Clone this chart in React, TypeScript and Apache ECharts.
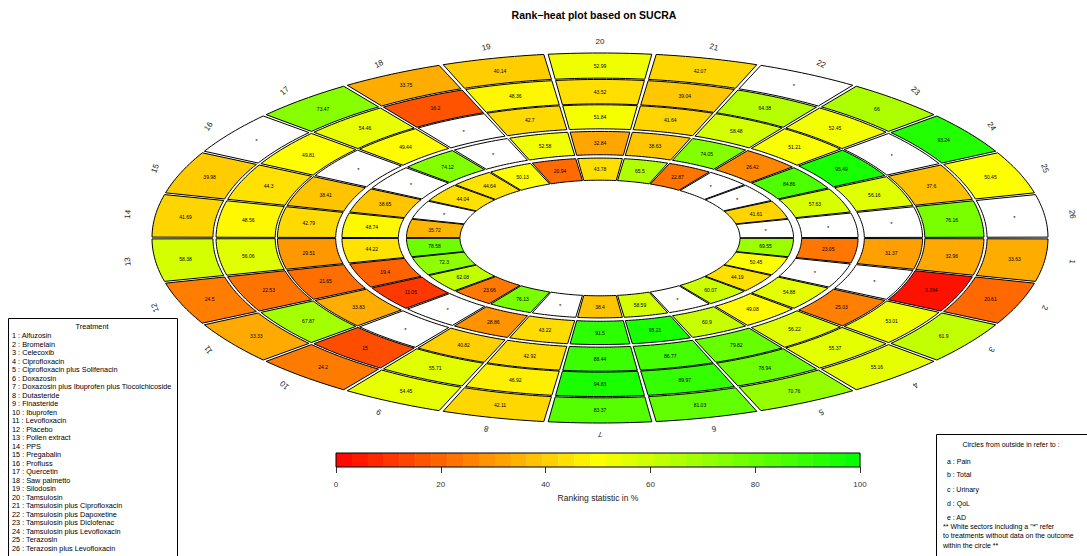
import React, { useEffect, useRef } from "react";
import * as echarts from "echarts";

const FONT = "Liberation Sans, Arial, sans-serif";

const treatments = [
  "Alfuzosin", "Bromelain", "Celecoxib", "Ciprofloxacin", "Ciprofloxacin plus Solifenacin",
  "Doxazosin", "Doxazosin plus Ibuprofen plus Tiocolchicoside", "Dutasteride", "Finasteride",
  "Ibuprofen", "Levofloxacin", "Placebo", "Pollen extract", "PPS", "Pregabalin", "Profluss",
  "Quercetin", "Saw palmetto", "Silodosin", "Tamsulosin", "Tamsulosin plus Ciprofloxacin",
  "Tamsulosin plus Dapoxetine", "Tamsulosin plus Diclofenac", "Tamsulosin plus Levofloxacin",
  "Terazosin", "Terazosin plus Levofloxacin",
];

const outcomeKeys = ["a", "b", "c", "d", "e"];
const outcomeNames = ["Pain", "Total", "Urinary", "QoL", "AD"];

// SUCRA values per ring (outside -> in), indexed by treatment 1..26; null = no data
const pain = [33.63, 20.61, 61.9, 55.16, 70.76, 81.03, 83.37, 42.11, 54.45, 24.2, 33.33, 24.5, 58.38, 41.69, 39.98, null, 73.47, 33.75, 40.14, 52.99, 42.07, null, 66, 93.24, 50.45, null];
const total = [32.96, 3.294, 53.01, 55.37, 78.94, 89.97, 94.83, 46.92, 55.71, 15, 67.87, 22.53, 56.06, 48.56, 44.3, 49.81, 54.46, 16.2, 48.36, 43.52, 39.04, 64.38, 52.45, null, 37.6, 76.16];
const urinary = [31.37, null, 25.03, 56.22, 79.82, 86.77, 88.44, 42.92, 40.82, null, 33.83, 21.65, 29.51, 42.79, 38.41, null, 49.44, null, 42.7, 51.84, 41.64, 58.48, 51.21, 95.49, 56.16, null];
const qol = [23.05, null, 54.88, 49.08, 60.9, 95.21, 91.5, 43.22, 28.86, null, 11.05, 19.4, 44.22, 48.74, 38.65, null, 74.12, null, 52.58, 32.84, 38.63, 74.05, 26.42, 84.86, 57.63, null];
const ad = [69.55, 50.45, 44.19, 60.07, null, 58.59, 38.4, null, 76.13, 23.66, 62.08, 72.3, 78.58, 35.72, null, 44.04, 44.64, 50.13, 20.94, 43.78, 65.5, 22.87, null, null, 41.61, null];

const colorbarTicks = [0, 20, 40, 60, 80, 100];
const colorbarSteps = 33;

const rings = [pain, total, urinary, qol, ad];
const ringRadii: number[][] = [
  [0.864, 1.0],
  [0.725, 0.857],
  [0.59, 0.72],
  [0.45, 0.576],
  [0.3125, 0.432],
];
const N_T = treatments.length;
const SECTOR = 360 / N_T;
const TOP_TREATMENT = 20;

function rampColor(v: number) {
  const t = Math.max(0, Math.min(100, v));
  let r: number, g: number;
  if (t <= 50) {
    r = 255;
    g = Math.round((255 * t) / 50);
  } else {
    r = Math.round((255 * (100 - t)) / 50);
    g = 255;
  }
  return `rgb(${r},${g},0)`;
}

function centerAngle(k: number) {
  return (((k - TOP_TREATMENT) * SECTOR) * Math.PI) / 180;
}

const cellData: number[][] = [];
rings.forEach((arr, ri) =>
  arr.forEach((v, i) => cellData.push([i + 1, ri, v == null ? -1 : v]))
);
const labelData = treatments.map((_, i) => [i + 1]);
const barData: number[][] = [];
for (let i = 0; i < colorbarSteps; i++) {
  barData.push([(i * 100) / colorbarSteps, ((i + 1) * 100) / colorbarSteps]);
}

function txt(text: string, x: number, y: number, size: number, align = "left", extra: any = {}) {
  return {
    type: "text",
    x,
    y,
    silent: true,
    style: {
      text,
      fontSize: size,
      fontFamily: FONT,
      fill: "#000",
      align,
      verticalAlign: "middle",
      textAlign: align,
      textVerticalAlign: "middle",
      ...extra,
    },
  };
}

function buildOption() {
  const graphics: any[] = [];
  graphics.push(txt("Rank\u2212heat plot based on SUCRA", 594, 15, 10.5, "center", { fontWeight: "bold" }));
  // Treatment legend
  graphics.push({
    type: "rect",
    shape: { x: 8.5, y: 318.5, width: 169, height: 260 },
    style: { fill: "#fff", stroke: "#000", lineWidth: 1 },
    z: 5,
  });
  graphics.push({ ...txt("Treatment", 92, 326.5, 7.3, "center"), z: 6 });
  treatments.forEach((t, i) => {
    graphics.push({ ...txt(`${i + 1} : ${t}`, 12, 335.5 + i * 8.5, 7.3, "left"), z: 6 });
  });
  // Outcome legend
  graphics.push({
    type: "rect",
    shape: { x: 936.5, y: 434.5, width: 170, height: 140 },
    style: { fill: "#fff", stroke: "#000", lineWidth: 1 },
    z: 5,
  });
  graphics.push({ ...txt("Circles from outside in refer to :", 1011, 444.5, 7, "center"), z: 6 });
  const ys = [461.5, 474, 489.5, 503, 517.5];
  outcomeKeys.forEach((k, i) => {
    graphics.push({ ...txt(`${k} : ${outcomeNames[i]}`, 947, ys[i], 7, "left"), z: 6 });
  });
  const notes = ['** White sectors including a "*" refer', "to treatments without data on the outcome", "within the circle **"];
  notes.forEach((n, i) => {
    graphics.push({ ...txt(n, 943, 526 + i * 9.5, 7, "left"), z: 6 });
  });
  // Colorbar border
  graphics.push({
    type: "rect",
    shape: { x: 336, y: 453, width: 524, height: 14 },
    style: { fill: "none", stroke: "#000", lineWidth: 1 },
    z: 10,
  });

  return {
    animation: false,
    backgroundColor: "#fff",
    grid: [
      { left: 152, top: 53, width: 896, height: 370 },
      { left: 336, top: 453, width: 524, height: 14 },
    ],
    xAxis: [
      { type: "value", gridIndex: 0, min: -1, max: 1, show: false },
      {
        type: "value",
        gridIndex: 1,
        min: 0,
        max: 100,
        interval: 20,
        position: "bottom",
        axisLine: { show: false },
        axisTick: { show: true, length: 6, lineStyle: { color: "#333", width: 1 } },
        axisLabel: { fontSize: 8, fontFamily: FONT, color: "#333", margin: 13 },
        splitLine: { show: false },
        name: "Ranking statistic in %",
        nameLocation: "middle",
        nameGap: 26,
        nameTextStyle: { fontSize: 8.5, fontFamily: FONT, color: "#222" },
      },
    ],
    yAxis: [
      { type: "value", gridIndex: 0, min: -1, max: 1, show: false },
      { type: "value", gridIndex: 1, min: 0, max: 1, show: false },
    ],
    graphic: graphics,
    series: [
      {
        type: "custom",
        xAxisIndex: 0,
        yAxisIndex: 0,
        data: cellData,
        clip: false,
        silent: true,
        renderItem: (params: any, api: any) => {
          const k = api.value(0);
          const ri = api.value(1);
          const v = api.value(2);
          const [r0, r1] = ringRadii[ri];
          const c = centerAngle(k);
          const half = ((SECTOR / 2 - 0.28) * Math.PI) / 180;
          const n = 14;
          const pts: number[][] = [];
          for (let i = 0; i <= n; i++) {
            const a = c - half + (2 * half * i) / n;
            pts.push(api.coord([r1 * Math.sin(a), r1 * Math.cos(a)]));
          }
          for (let i = n; i >= 0; i--) {
            const a = c - half + (2 * half * i) / n;
            pts.push(api.coord([r0 * Math.sin(a), r0 * Math.cos(a)]));
          }
          const mid = (r0 + r1) / 2;
          const tp = api.coord([mid * Math.sin(c), mid * Math.cos(c)]);
          const missing = v < 0;
          return {
            type: "group",
            children: [
              {
                type: "polygon",
                shape: { points: pts },
                style: { fill: missing ? "#fff" : rampColor(v), stroke: "#000", lineWidth: 1 },
              },
              {
                type: "text",
                x: tp[0],
                y: tp[1] + (missing ? 1 : 0),
                style: {
                  text: missing ? "*" : String(v),
                  fontSize: missing ? 6 : 5,
                  fontFamily: FONT,
                  fill: "#000",
                  align: "center",
                  verticalAlign: "middle",
                  textAlign: "center",
                  textVerticalAlign: "middle",
                },
              },
            ],
          };
        },
      },
      {
        type: "custom",
        xAxisIndex: 0,
        yAxisIndex: 0,
        data: labelData,
        clip: false,
        silent: true,
        renderItem: (params: any, api: any) => {
          const k = api.value(0);
          const c = centerAngle(k);
          const r = 1.062;
          const p = api.coord([r * Math.sin(c), r * Math.cos(c)]);
          return {
            type: "text",
            x: p[0],
            y: p[1],
            rotation: -c,
            style: {
              text: String(k),
              fontSize: 8,
              fontFamily: FONT,
              fill: "#222",
              align: "center",
              verticalAlign: "middle",
              textAlign: "center",
              textVerticalAlign: "middle",
            },
          };
        },
      },
      {
        type: "custom",
        xAxisIndex: 1,
        yAxisIndex: 1,
        data: barData,
        silent: true,
        renderItem: (params: any, api: any) => {
          const s = api.value(0);
          const e = api.value(1);
          const p0 = api.coord([s, 1]);
          const p1 = api.coord([e, 0]);
          return {
            type: "rect",
            shape: { x: p0[0], y: p0[1], width: p1[0] - p0[0] + 0.3, height: p1[1] - p0[1] },
            style: { fill: rampColor((s + e) / 2), stroke: null },
          };
        },
      },
    ],
  };
}

export default function App() {
  const ref = useRef<HTMLDivElement>(null);
  useEffect(() => {
    if (!ref.current) return;
    const chart = echarts.init(ref.current, null, { renderer: "svg" });
    chart.setOption(buildOption() as any);
    return () => chart.dispose();
  }, []);
  return (
    <div
      ref={ref}
      style={{ position: "absolute", left: 0, top: 0, width: 1087, height: 556, background: "#fff" }}
    />
  );
}
